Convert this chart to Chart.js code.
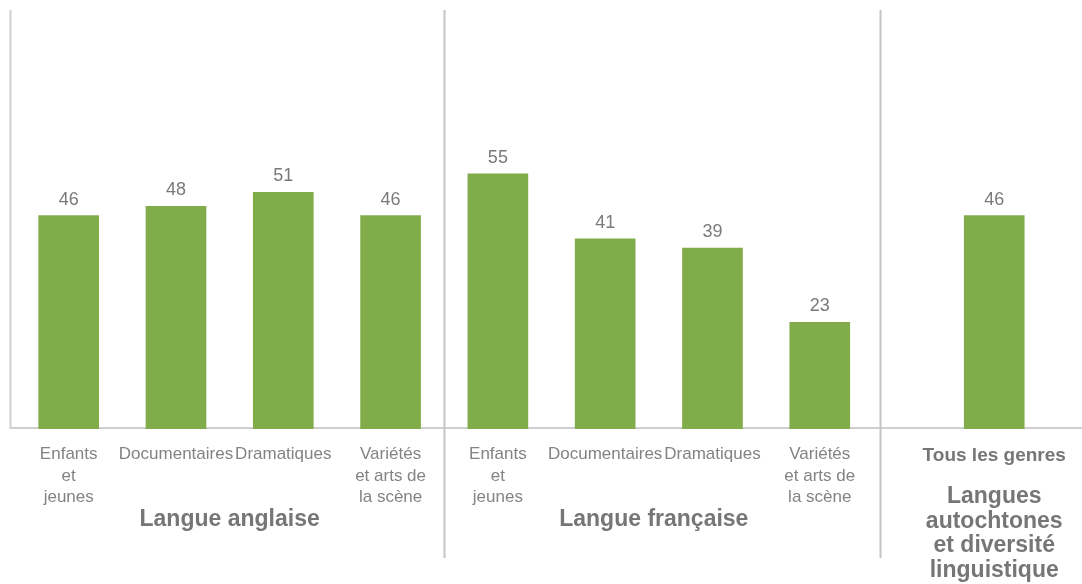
<!DOCTYPE html>
<html>
<head>
<meta charset="utf-8">
<script src="https://cdn.jsdelivr.net/npm/chart.js@4/dist/chart.umd.min.js"></script>
<style>
    html, body { margin: 0; padding: 0; background: #ffffff; }
    #wrap { width: 1082px; height: 584px; position: relative; }
</style>
</head>
<body>
<div id="wrap"><canvas id="chart"></canvas></div>
<script>
// Data
const categories = [
    ['Enfants', 'et', 'jeunes'],
    ['Documentaires'],
    ['Dramatiques'],
    ['Variétés', 'et arts de', 'la scène'],
    ['Enfants', 'et', 'jeunes'],
    ['Documentaires'],
    ['Dramatiques'],
    ['Variétés', 'et arts de', 'la scène'],
    ['Tous les genres']
];
const values = [46, 48, 51, 46, 55, 41, 39, 23, 46];
const groupOf = [0, 0, 0, 0, 1, 1, 1, 1, 2];
const groupLabels = [
    ['Langue anglaise'],
    ['Langue française'],
    ['Langues', 'autochtones', 'et diversité', 'linguistique']
];

// Layout: the last group sits a little further right than a plain slot
const LAST_GROUP_SHIFT = 0.626;
const xPos = categories.map((c, i) => i + (groupOf[i] === 2 ? LAST_GROUP_SHIFT : 0));
const SEPARATORS = [3.5, 7.562];

const FONT = "'Liberation Sans', Arial, sans-serif";
const GREEN = '#80ac4a';
const TEXT = '#838383';
const BOLD_TEXT = '#767676';
const LINE = '#cfcfcf';

// Axis lines, group separators, value labels and group titles
const decorations = {
    id: 'decorations',
    beforeDatasetsDraw(chart) {
        const { ctx, chartArea } = chart;
        const xs = chart.scales.x;
        ctx.save();
        ctx.strokeStyle = LINE;
        ctx.lineWidth = 2;
        ctx.beginPath();
        ctx.moveTo(10.5, chartArea.top);
        ctx.lineTo(10.5, chartArea.bottom - 1);
        ctx.lineTo(chartArea.right, chartArea.bottom - 1);
        ctx.stroke();

        ctx.strokeStyle = '#c4c4c4';
        SEPARATORS.forEach(v => {
            const px = Math.round(xs.getPixelForValue(v)) + 0.5;
            ctx.beginPath();
            ctx.moveTo(px, chartArea.top);
            ctx.lineTo(px, chartArea.bottom + 129);
            ctx.stroke();
        });
        ctx.restore();
    },
    afterDatasetsDraw(chart) {
        const { ctx, chartArea } = chart;
        const meta = chart.getDatasetMeta(0);
        ctx.save();
        ctx.textAlign = 'center';
        ctx.textBaseline = 'middle';

        ctx.fillStyle = '#7a7a7a';
        ctx.font = '18px ' + FONT;
        meta.data.forEach((bar, i) => {
            ctx.fillText(String(values[i]), bar.x, bar.y - 16);
        });

        ctx.fillStyle = BOLD_TEXT;
        ctx.font = 'bold 23px ' + FONT;
        groupLabels.forEach((lines, g) => {
            const idx = groupOf.map((gg, i) => gg === g ? i : -1).filter(i => i >= 0);
            const x0 = meta.data[idx[0]].x;
            const x1 = meta.data[idx[idx.length - 1]].x;
            const cx = (x0 + x1) / 2 - (g === 1 ? 5 : 0);
            const y0 = lines.length > 1 ? chartArea.bottom + 68 : chartArea.bottom + 91;
            lines.forEach((t, k) => ctx.fillText(t, cx, y0 + k * 24.5));
        });
        ctx.restore();
    }
};

new Chart(document.getElementById('chart'), {
    type: 'bar',
    data: {
        datasets: [{
            data: values.map((v, i) => ({ x: xPos[i], y: v })),
            backgroundColor: GREEN,
            barThickness: 60
        }]
    },
    options: {
        responsive: true,
        maintainAspectRatio: false,
        animation: false,
        layout: { padding: { top: 10, left: 10, right: 0, bottom: 0 } },
        plugins: {
            legend: { display: false },
            tooltip: { enabled: false }
        },
        scales: {
            x: {
                type: 'linear',
                offset: false,
                min: -0.547,
                max: 9.444,
                grid: { display: false, drawTicks: false, offset: false },
                border: { display: false },
                afterBuildTicks: s => { s.ticks = xPos.map(v => ({ value: v })); },
                afterFit: s => {
                    s.height = 584 - 429;
                    s.paddingLeft = 0;
                    s.paddingRight = 0;
                },
                ticks: {
                    autoSkip: false,
                    maxRotation: 0,
                    minRotation: 0,
                    padding: 15,
                    color: ctx => ctx.index === 8 ? BOLD_TEXT : TEXT,
                    font: ctx => ctx.index === 8
                        ? { family: FONT, size: 19, weight: 'bold', lineHeight: 1.25 }
                        : { family: FONT, size: 17, lineHeight: 1.25 },
                    callback: (v, i) => categories[i]
                }
            },
            y: {
                display: false,
                min: 0,
                max: 90.3
            }
        }
    },
    plugins: [decorations]
});
</script>
</body>
</html>
